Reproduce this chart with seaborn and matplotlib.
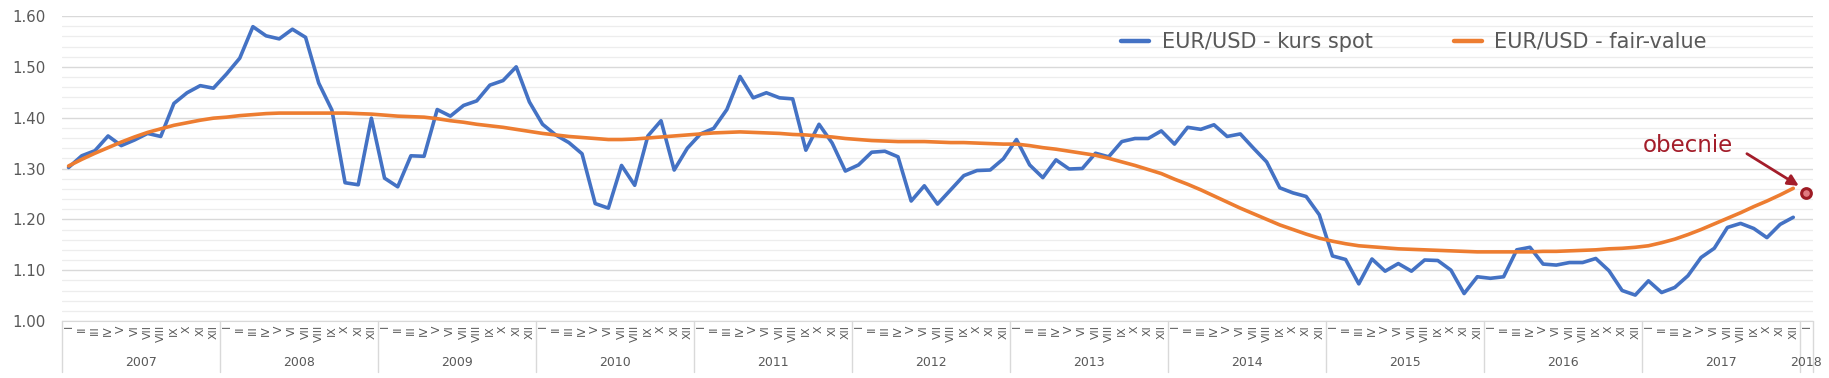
# EUR/USD spot vs fair value, monthly 2007-2017
import matplotlib.pyplot as plt
import matplotlib.transforms as mtransforms
import numpy as np
import pandas as pd
import seaborn as sns

# month labels and years
months = ['I', 'II', 'III', 'IV', 'V', 'VI', 'VII', 'VIII', 'IX', 'X', 'XI', 'XII']
years = [2007, 2008, 2009, 2010, 2011, 2012, 2013, 2014, 2015, 2016, 2017]
last_label = ('I', 2018)

# EUR/USD spot rate, Jan 2007 - Dec 2017
spot = [
    1.302, 1.325, 1.335, 1.364, 1.345, 1.356, 1.369, 1.363, 1.428, 1.449, 1.463, 1.458,
    1.486, 1.517, 1.579, 1.561, 1.555, 1.574, 1.558, 1.468, 1.415, 1.272, 1.268, 1.399,
    1.281, 1.264, 1.325, 1.324, 1.416, 1.403, 1.424, 1.433, 1.464, 1.473, 1.500, 1.431,
    1.387, 1.366, 1.351, 1.329, 1.231, 1.222, 1.306, 1.267, 1.364, 1.394, 1.297, 1.340,
    1.368, 1.379, 1.416, 1.481, 1.439, 1.449, 1.439, 1.437, 1.336, 1.387, 1.350, 1.295,
    1.307, 1.332, 1.334, 1.323, 1.236, 1.266, 1.230, 1.258, 1.286, 1.296, 1.297, 1.319,
    1.357, 1.307, 1.282, 1.317, 1.299, 1.300, 1.330, 1.323, 1.353, 1.359, 1.359, 1.374,
    1.348, 1.381, 1.377, 1.386, 1.363, 1.368, 1.340, 1.313, 1.262, 1.252, 1.245, 1.209,
    1.128, 1.121, 1.073, 1.122, 1.098, 1.113, 1.098, 1.120, 1.119, 1.100, 1.054, 1.087,
    1.084, 1.087, 1.140, 1.145, 1.112, 1.110, 1.115, 1.115, 1.123, 1.099, 1.060, 1.051,
    1.079, 1.056, 1.066, 1.089, 1.125, 1.143, 1.184, 1.192, 1.182, 1.164, 1.190, 1.204,
]

# EUR/USD fair value, Jan 2007 - Dec 2017
fair = [
    1.305, 1.318, 1.330, 1.341, 1.352, 1.362, 1.371, 1.378, 1.385, 1.390, 1.395, 1.399,
    1.401, 1.404, 1.406, 1.408, 1.409, 1.409, 1.409, 1.409, 1.409, 1.409, 1.408, 1.407,
    1.405, 1.403, 1.402, 1.401, 1.398, 1.394, 1.391, 1.387, 1.384, 1.381, 1.377, 1.373,
    1.369, 1.366, 1.363, 1.361, 1.359, 1.357, 1.357, 1.358, 1.360, 1.362, 1.364, 1.366,
    1.368, 1.370, 1.371, 1.372, 1.371, 1.370, 1.369, 1.367, 1.366, 1.364, 1.362, 1.359,
    1.357, 1.355, 1.354, 1.353, 1.353, 1.353, 1.352, 1.351, 1.351, 1.350, 1.349, 1.348,
    1.348, 1.345, 1.341, 1.338, 1.334, 1.330, 1.326, 1.320, 1.313, 1.306, 1.298, 1.290,
    1.279, 1.269, 1.258, 1.246, 1.234, 1.222, 1.211, 1.200, 1.189, 1.180, 1.171, 1.163,
    1.157, 1.152, 1.148, 1.146, 1.144, 1.142, 1.141, 1.140, 1.139, 1.138, 1.137, 1.136,
    1.136, 1.136, 1.136, 1.136, 1.137, 1.137, 1.138, 1.139, 1.140, 1.142, 1.143, 1.145,
    1.148, 1.154, 1.161, 1.170, 1.180, 1.191, 1.202, 1.213, 1.225, 1.236, 1.248, 1.261,
]

# current fair value point (Jan 2018)
current_value = 1.251

labels = [m for y in years for m in months] + [last_label[0]]
n = len(labels)

df = pd.DataFrame({
    'idx': np.arange(len(spot)),
    'EUR/USD - kurs spot': spot,
    'EUR/USD - fair-value': fair,
})
long_df = df.melt(id_vars='idx', var_name='series', value_name='value')

sns.set_style('white')
plt.rcParams['font.family'] = ['DejaVu Sans']

fig = plt.figure(figsize=(18.29, 3.78), dpi=100)
ax = fig.add_axes([62 / 1829, 57 / 378, 1751 / 1829, 305 / 378])

sns.lineplot(data=long_df, x='idx', y='value', hue='series',
             palette=['#4472C4', '#ED7D31'], linewidth=2.6, ax=ax)

# current point
ax.plot([n - 1], [current_value], marker='o', ms=7, mfc='#e07a80', mec='#9e1b24',
        mew=2.2, ls='none', zorder=6)

ax.set_xlim(-0.5, n - 0.5)
ax.set_ylim(1.00, 1.60)
ax.set_yticks(np.arange(1.0, 1.61, 0.1))
ax.set_yticks(np.arange(1.0, 1.601, 0.02), minor=True)
ax.set_yticklabels([f'{v:.2f}' for v in np.arange(1.0, 1.61, 0.1)],
                   fontsize=10.8, color='#595959')
ax.grid(axis='y', which='major', color='#d9d9d9', lw=1.0)
ax.grid(axis='y', which='minor', color='#ededed', lw=0.9)
ax.set_axisbelow(True)
ax.tick_params(axis='y', which='both', length=0, pad=12)

ax.set_xticks(np.arange(n))
ax.set_xticklabels(labels, rotation=90, fontsize=7.8, color='#595959', va='top')
ax.tick_params(axis='x', length=0, pad=3)
ax.set_xlabel('')
ax.set_ylabel('')

for s in ['top', 'right', 'left']:
    ax.spines[s].set_visible(False)
ax.spines['bottom'].set_color('#d9d9d9')

# year separators and labels under the month labels
trans = mtransforms.blended_transform_factory(ax.transData, ax.transAxes)
for k in range(len(years) + 1):
    ax.plot([k * 12 - 0.5] * 2, [0, -0.168], transform=trans, color='#d9d9d9',
            lw=1.0, clip_on=False)
ax.plot([n - 0.5] * 2, [0, -0.168], transform=trans, color='#d9d9d9',
        lw=1.0, clip_on=False)
for k, y in enumerate(years):
    ax.text(k * 12 + 5.5, -0.135, str(y), transform=trans, ha='center', va='center',
            fontsize=9, color='#595959')
ax.text(n - 1, -0.135, str(last_label[1]), transform=trans, ha='center', va='center',
        fontsize=9, color='#595959')

# legend
leg = ax.legend(loc='center left', bbox_to_anchor=(0.605, 0.915), ncol=2, frameon=False,
                fontsize=15, handlelength=1.35, handletextpad=0.58, columnspacing=3.9,
                borderpad=0, borderaxespad=0)
for t in leg.get_texts():
    t.set_color('#595959')
for h in leg.get_lines():
    h.set_linewidth(3.2)

# annotation
ax.text(119.6, 1.346, 'obecnie', fontsize=16.5, color='#a31d2a', va='center', ha='left')
ax.annotate('', xy=(131.6, 1.263), xytext=(127.3, 1.332),
            arrowprops=dict(arrowstyle='-|>', color='#a31d2a', lw=2.0, mutation_scale=16))

plt.savefig('out.png', dpi=100)
